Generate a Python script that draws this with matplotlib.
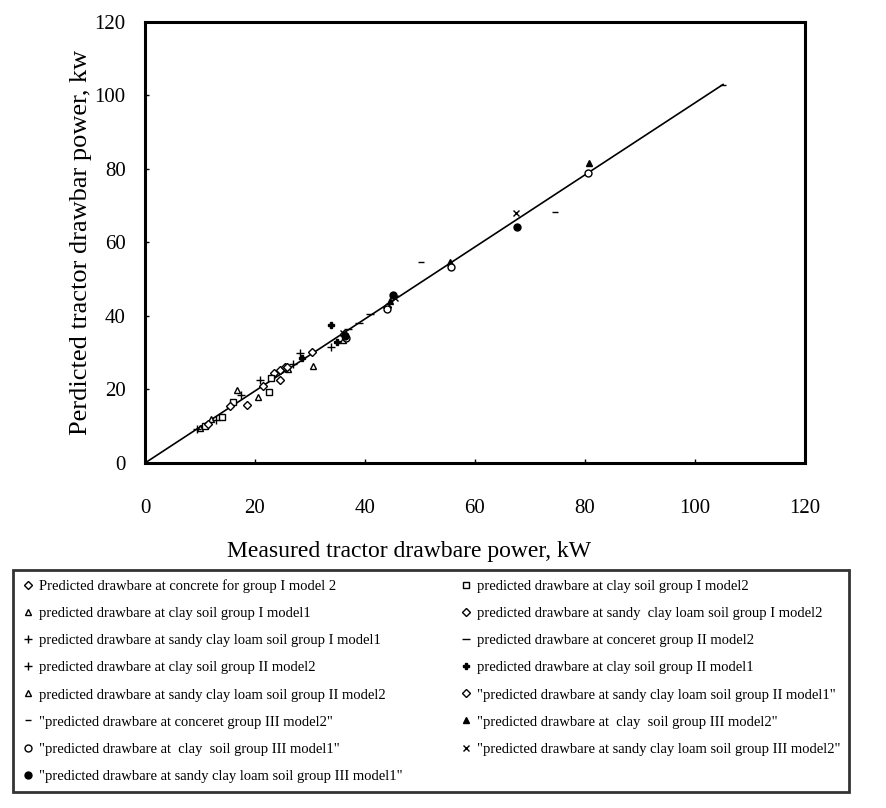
import numpy as np
import matplotlib.pyplot as plt

plt.rcParams['font.family'] = ['Liberation Serif', 'DejaVu Serif']

# measured (x) / predicted (y) drawbar power, kW
# group I
x1 = [21.5, 23.5, 24.5, 25.5]
y1 = [21.0, 24.5, 25.2, 26.0]
x2 = [11.0, 14.0, 16.0, 22.5, 23.0]
y2 = [10.0, 12.5, 16.5, 19.3, 23.0]
x3 = [10.0, 12.0, 16.7, 20.5]
y3 = [9.5, 12.0, 19.9, 18.0]
x4 = [11.5, 15.5, 18.5, 24.5]
y4 = [10.5, 15.5, 15.8, 22.6]
x5 = [9.5, 13.0, 17.5, 20.9]
y5 = [9.2, 11.8, 18.5, 22.6]
# group II
x6 = [37.0, 39.0, 41.0]
y6 = [36.5, 38.0, 40.5]
x7 = [27.0, 28.2, 33.8]
y7 = [27.0, 30.0, 31.6]
x8 = [28.5, 33.8, 35.0]
y8 = [28.5, 37.5, 33.0]
x9 = [26.0, 30.5, 36.0]
y9 = [25.5, 26.4, 33.5]
x10 = [25.8, 30.4, 36.2, 44.0]
y10 = [26.0, 30.2, 35.0, 42.5]
# group III
x11 = [50.2, 74.5, 105.1]
y11 = [54.7, 68.3, 102.9]
x12 = [44.5, 55.5, 80.7]
y12 = [44.0, 54.7, 81.6]
x13 = [36.5, 44.0, 55.6, 80.5]
y13 = [34.0, 42.0, 53.3, 78.9]
x14 = [36.0, 45.5, 67.5]
y14 = [35.5, 45.0, 68.0]
x15 = [36.3, 45.1, 67.6]
y15 = [34.5, 45.7, 64.2]

etiquetas = [
    'Predicted drawbare at concrete for group I model 2',
    'predicted drawbare at clay soil group I model2',
    'predicted drawbare at clay soil group I model1',
    'predicted drawbare at sandy  clay loam soil group I model2',
    'predicted drawbare at sandy clay loam soil group I model1',
    'predicted drawbare at conceret group II model2',
    'predicted drawbare at clay soil group II model2',
    'predicted drawbare at clay soil group II model1',
    'predicted drawbare at sandy clay loam soil group II model2',
    '"predicted drawbare at sandy clay loam soil group II model1"',
    '"predicted drawbare at conceret group III model2"',
    '"predicted drawbare at  clay  soil group III model2"',
    '"predicted drawbare at  clay  soil group III model1"',
    '"predicted drawbare at sandy clay loam soil group III model2"',
    '"predicted drawbare at sandy clay loam soil group III model1"',
]

xs = [x1, x2, x3, x4, x5, x6, x7, x8, x9, x10, x11, x12, x13, x14, x15]
ys = [y1, y2, y3, y4, y5, y6, y7, y8, y9, y10, y11, y12, y13, y14, y15]

# estilos (marcador, relleno, tamaño)
estilos = [
    ('D', 'white', 4), ('s', 'white', 5), ('^', 'white', 5), ('D', 'white', 4),
    ('+', 'black', 6), ('_', 'black', 6), ('+', 'black', 6), ('P', 'black', 5),
    ('^', 'white', 5), ('D', 'white', 4), ('_', 'black', 4), ('^', 'black', 5),
    ('o', 'white', 5), ('x', 'black', 5), ('o', 'black', 5),
]

fig = plt.figure(figsize=(8.87, 8.08), dpi=100)
ax = fig.add_axes([145 / 887, 1 - 463 / 808, 660 / 887, 441 / 808])

# recta de ajuste por el origen
todos_x = np.concatenate([np.array(v) for v in xs])
todos_y = np.concatenate([np.array(v) for v in ys])
k = np.sum(todos_x * todos_y) / np.sum(todos_x ** 2)
xl = np.array([0, todos_x.max()])
ax.plot(xl, k * xl, color='black', lw=1.2, zorder=2)

handles = []
for x, y, (m, fc, ms) in zip(xs, ys, estilos):
    h, = ax.plot(x, y, ls='none', marker=m, ms=ms, mfc=fc, mec='black',
                 mew=1.0, zorder=3)
    handles.append(h)

ax.set_xlim(0, 120)
ax.set_ylim(0, 120)
ax.set_xticks(range(0, 121, 20))
ax.set_yticks(range(0, 121, 20))
ax.tick_params(direction='in', length=3, width=1, labelsize=15)
ax.tick_params(axis='x', pad=26)
ax.tick_params(axis='y', pad=14)
for s in ax.spines.values():
    s.set_linewidth(2.2)

ax.set_xlabel('Measured tractor drawbare power, kW', fontsize=17)
ax.xaxis.set_label_coords(0.40, -0.178)
ax.set_ylabel('Perdicted tractor drawbar power, kw', fontsize=19)
ax.yaxis.set_label_coords(-0.08, 0.5)

# leyenda en dos columnas, ordenada por filas
orden = [0, 2, 4, 6, 8, 10, 12, 14, 1, 3, 5, 7, 9, 11, 13]
leg = fig.legend([handles[i] for i in orden], [etiquetas[i] for i in orden],
                 ncol=2, loc='upper left',
                 bbox_to_anchor=(13 / 887, 1 - 570 / 808),
                 fontsize=10.5, frameon=True, fancybox=False,
                 edgecolor='black', borderaxespad=0, borderpad=0.65,
                 labelspacing=0.95, handlelength=0.8, handletextpad=0.3,
                 columnspacing=4.0, markerscale=1.0)
leg.get_frame().set_linewidth(2)

fig.savefig('out.png', dpi=100)
